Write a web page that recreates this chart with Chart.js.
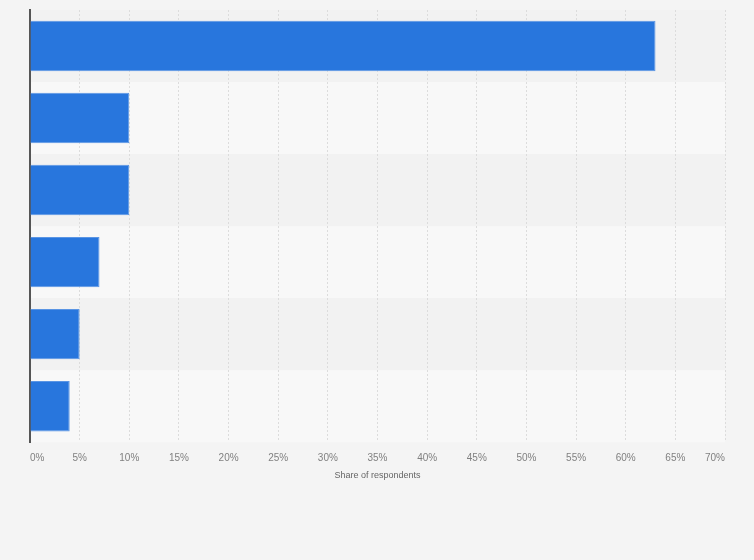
<!DOCTYPE html>
<html>
<head>
<meta charset="utf-8">
<script src="https://cdn.jsdelivr.net/npm/chart.js@4"></script>
<style>
  html, body { margin: 0; padding: 0; background: #f4f4f4; }
  #wrap { width: 754px; height: 560px; }
</style>
</head>
<body>
<div id="wrap"><canvas id="chart"></canvas></div>
<script>
// no category labels are shown in the chart
const categories = ['', '', '', '', '', ''];
const shares = [63, 10, 10, 7, 5, 4];
const xTicks = [0, 5, 10, 15, 20, 25, 30, 35, 40, 45, 50, 55, 60, 65, 70];

// alternating row bands behind the bars
const bands = {
  id: 'bands',
  beforeDraw(chart) {
    const {ctx, chartArea, scales} = chart;
    const y = scales.y;
    ctx.save();
    categories.forEach((c, i) => {
      const mid = y.getPixelForValue(i);
      const half = (y.getPixelForValue(1) - y.getPixelForValue(0)) / 2;
      ctx.fillStyle = i % 2 === 0 ? '#f2f2f2' : '#f8f8f8';
      ctx.fillRect(chartArea.left, mid - half, chartArea.right - chartArea.left, half * 2);
    });
    ctx.restore();
  }
};

const ctx = document.getElementById('chart').getContext('2d');
new Chart(ctx, {
  type: 'bar',
  data: {
    labels: categories,
    datasets: [{
      data: shares,
      backgroundColor: '#2876dd',
      borderColor: '#5a95e4',
      borderWidth: 1,
      barPercentage: 0.7,
      categoryPercentage: 1
    }]
  },
  options: {
    indexAxis: 'y',
    responsive: true,
    maintainAspectRatio: false,
    animation: false,
    layout: { padding: { left: 22, right: 29, top: 10, bottom: 75 } },
    plugins: { legend: { display: false }, tooltip: { enabled: false } },
    scales: {
      x: {
        min: 0,
        max: 70,
        afterBuildTicks(axis) { axis.ticks = xTicks.map(v => ({ value: v })); },
        grid: { color: '#dcdcdc', borderDash: [2, 2], drawTicks: false },
        border: { display: false, dash: [2, 2] },
        ticks: {
          align: 'inner',
          padding: 10,
          color: '#808080',
          font: { family: 'Arial, Liberation Sans, sans-serif', size: 10 },
          callback: v => v + '%'
        },
        title: {
          display: true,
          text: 'Share of respondents',
          color: '#666',
          font: { family: 'Arial, Liberation Sans, sans-serif', size: 9 },
          padding: { top: -4, bottom: 4 }
        }
      },
      y: {
        grid: { display: false },
        border: { display: true, color: '#555', width: 2 },
        ticks: { display: false }
      }
    }
  },
  plugins: [bands]
});
</script>
</body>
</html>
